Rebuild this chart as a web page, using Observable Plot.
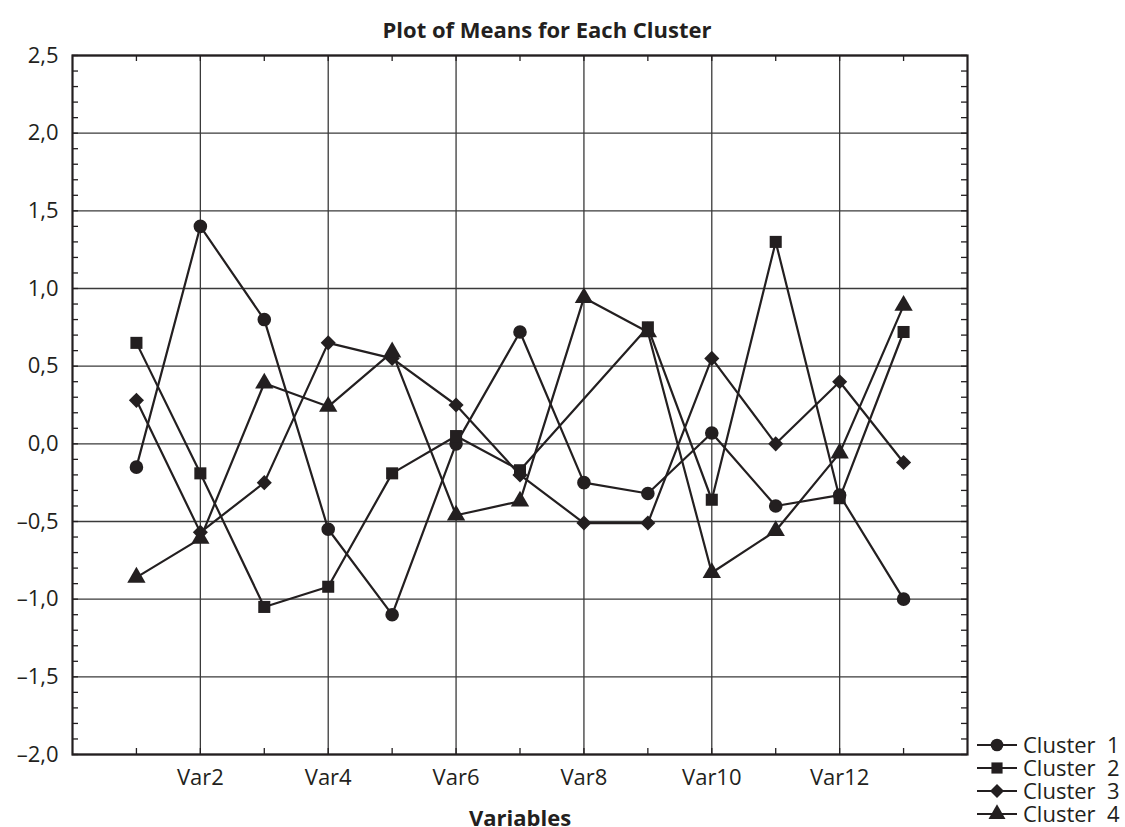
<!DOCTYPE html>
<html>
<head>
<meta charset="utf-8">
<script src="https://cdn.jsdelivr.net/npm/d3@7"></script>
<script src="https://cdn.jsdelivr.net/npm/@observablehq/plot@0.6"></script>
<style>
  body { margin: 0; background: #fff; font-family: "Open Sans", sans-serif; color: #231f20; }
  #wrap { position: relative; width: 1125px; height: 827px; overflow: hidden; background: #fff; }
  #chart { position: absolute; left: 0; top: 0; }
  #title { position: absolute; left: 0; top: 14px; width: 1094px; text-align: center; font-weight: bold; font-size: 22px; line-height: 30px; }
  #legend { position: absolute; left: 975px; top: 733px; font-size: 22px; }
  .item { display: flex; align-items: center; height: 23px; white-space: pre; overflow: visible; }
  .item svg { display: block; margin-right: 4px; flex: none; }
  .item div { height: 23px; line-height: 23px; overflow: visible; }
</style>
</head>
<body>
<div id="wrap">
  <div id="chart"></div>
  <div id="title">Plot of Means for Each Cluster</div>
  <div id="legend"></div>
</div>
<script>
// ---- data ----
const variables = ["Var1","Var2","Var3","Var4","Var5","Var6","Var7","Var8","Var9","Var10","Var11","Var12","Var13"];
const clusters = ["Cluster  1", "Cluster  2", "Cluster  3", "Cluster  4"];
const cluster1 = [-0.15, 1.40, 0.80, -0.55, -1.10, 0.00, 0.72, -0.25, -0.32, 0.07, -0.40, -0.33, -1.00];
const cluster2 = [0.65, -0.19, -1.05, -0.92, -0.19, 0.05, -0.17, null, 0.75, -0.36, 1.30, -0.35, 0.72];
const cluster3 = [0.28, -0.57, -0.25, 0.65, 0.55, 0.25, -0.20, -0.51, -0.51, 0.55, 0.00, 0.40, -0.12];
const cluster4 = [-0.86, -0.61, 0.39, 0.24, 0.59, -0.46, -0.37, 0.94, 0.72, -0.83, -0.56, -0.06, 0.89];
const yTickValues = [-2.0, -1.5, -1.0, -0.5, 0.0, 0.5, 1.0, 1.5, 2.0, 2.5];
const xTickLabels = ["Var2", "Var4", "Var6", "Var8", "Var10", "Var12"];
const symbols = ["circle", "square", "diamond2", "triangle"];

// ---- build table ----
const series = [cluster1, cluster2, cluster3, cluster4];
const rows = [];
series.forEach((vals, ci) => {
  vals.forEach((v, i) => {
    if (v !== null) rows.push({ cluster: clusters[ci], variable: i + 1, name: variables[i], value: v });
  });
});

const ink = "#231f20";
const W = 1125, H = 845, ML = 72, MR = 158, MT = 55, MB = 91;
const FW = W - ML - MR, FH = H - MT - MB;
const xTickPos = xTickLabels.map(l => variables.indexOf(l) + 1);
const xMinor = variables.map((v, i) => i + 1);
const yMinor = d3.range(Math.round(yTickValues[0] * 10), Math.round(yTickValues[yTickValues.length - 1] * 10) + 1).map(d => d / 10);
const fmt = d => (d < 0 ? "\u2013" : "") + Math.abs(d).toFixed(1).replace(".", ",");

const plot = Plot.plot({
  width: W, height: H,
  marginLeft: ML, marginRight: MR, marginTop: MT, marginBottom: MB,
  style: { fontFamily: "'Open Sans', sans-serif", color: ink, background: "white", overflow: "visible" },
  x: { domain: [0, variables.length + 1] },
  y: { domain: [yTickValues[0], yTickValues[yTickValues.length - 1]] },
  symbol: { domain: clusters, range: symbols },
  marks: [
    Plot.gridY(yTickValues, { stroke: "#3a3a3a", strokeOpacity: 1, strokeWidth: 1.3 }),
    Plot.gridX(xTickPos, { stroke: "#3a3a3a", strokeOpacity: 1, strokeWidth: 1.3 }),
    Plot.tickY(yMinor, { y: d => d, insetRight: FW - 6, stroke: ink, strokeWidth: 1.3 }),
    Plot.tickY(yMinor, { y: d => d, insetLeft: FW - 6, stroke: ink, strokeWidth: 1.3 }),
    Plot.tickX(xMinor, { x: d => d, insetTop: FH - 6, stroke: ink, strokeWidth: 1.3 }),
    Plot.tickX(xMinor, { x: d => d, insetBottom: FH - 6, stroke: ink, strokeWidth: 1.3 }),
    Plot.frame({ stroke: ink, strokeWidth: 2.2 }),
    Plot.line(rows, { x: "variable", y: "value", z: "cluster", stroke: ink, strokeWidth: 2.2 }),
    Plot.dot(rows, { x: "variable", y: "value", symbol: "cluster", fill: ink, r: 6.8 }),
    Plot.axisY(yTickValues, { tickSize: 0, tickPadding: 14, tickFormat: fmt, fontSize: 22, label: null }),
    Plot.axisX(xTickPos, { tickSize: 0, tickPadding: 15, tickFormat: d => variables[d - 1], fontSize: 22, label: null }),
    Plot.text(["Variables"], { frameAnchor: "bottom", dy: 64, lineAnchor: "middle", fontWeight: "bold", fontSize: 22, fill: ink })
  ]
});
document.getElementById("chart").appendChild(plot);

// ---- legend ----
const symMap = { circle: d3.symbolCircle, square: d3.symbolSquare, diamond2: d3.symbolDiamond2, triangle: d3.symbolTriangle };
const legend = d3.select("#legend");
clusters.forEach((c, i) => {
  const item = legend.append("div").attr("class", "item");
  const svg = item.append("svg").attr("width", 44).attr("height", 22);
  svg.append("line").attr("x1", 2).attr("x2", 42).attr("y1", 11).attr("y2", 11)
    .attr("stroke", ink).attr("stroke-width", 2.2);
  svg.append("path").attr("transform", "translate(22,11)")
    .attr("d", d3.symbol().type(symMap[symbols[i]]).size(Math.PI * 6.3 * 6.3)())
    .attr("fill", ink);
  item.append("div").text(c);
});
</script>
</body>
</html>
